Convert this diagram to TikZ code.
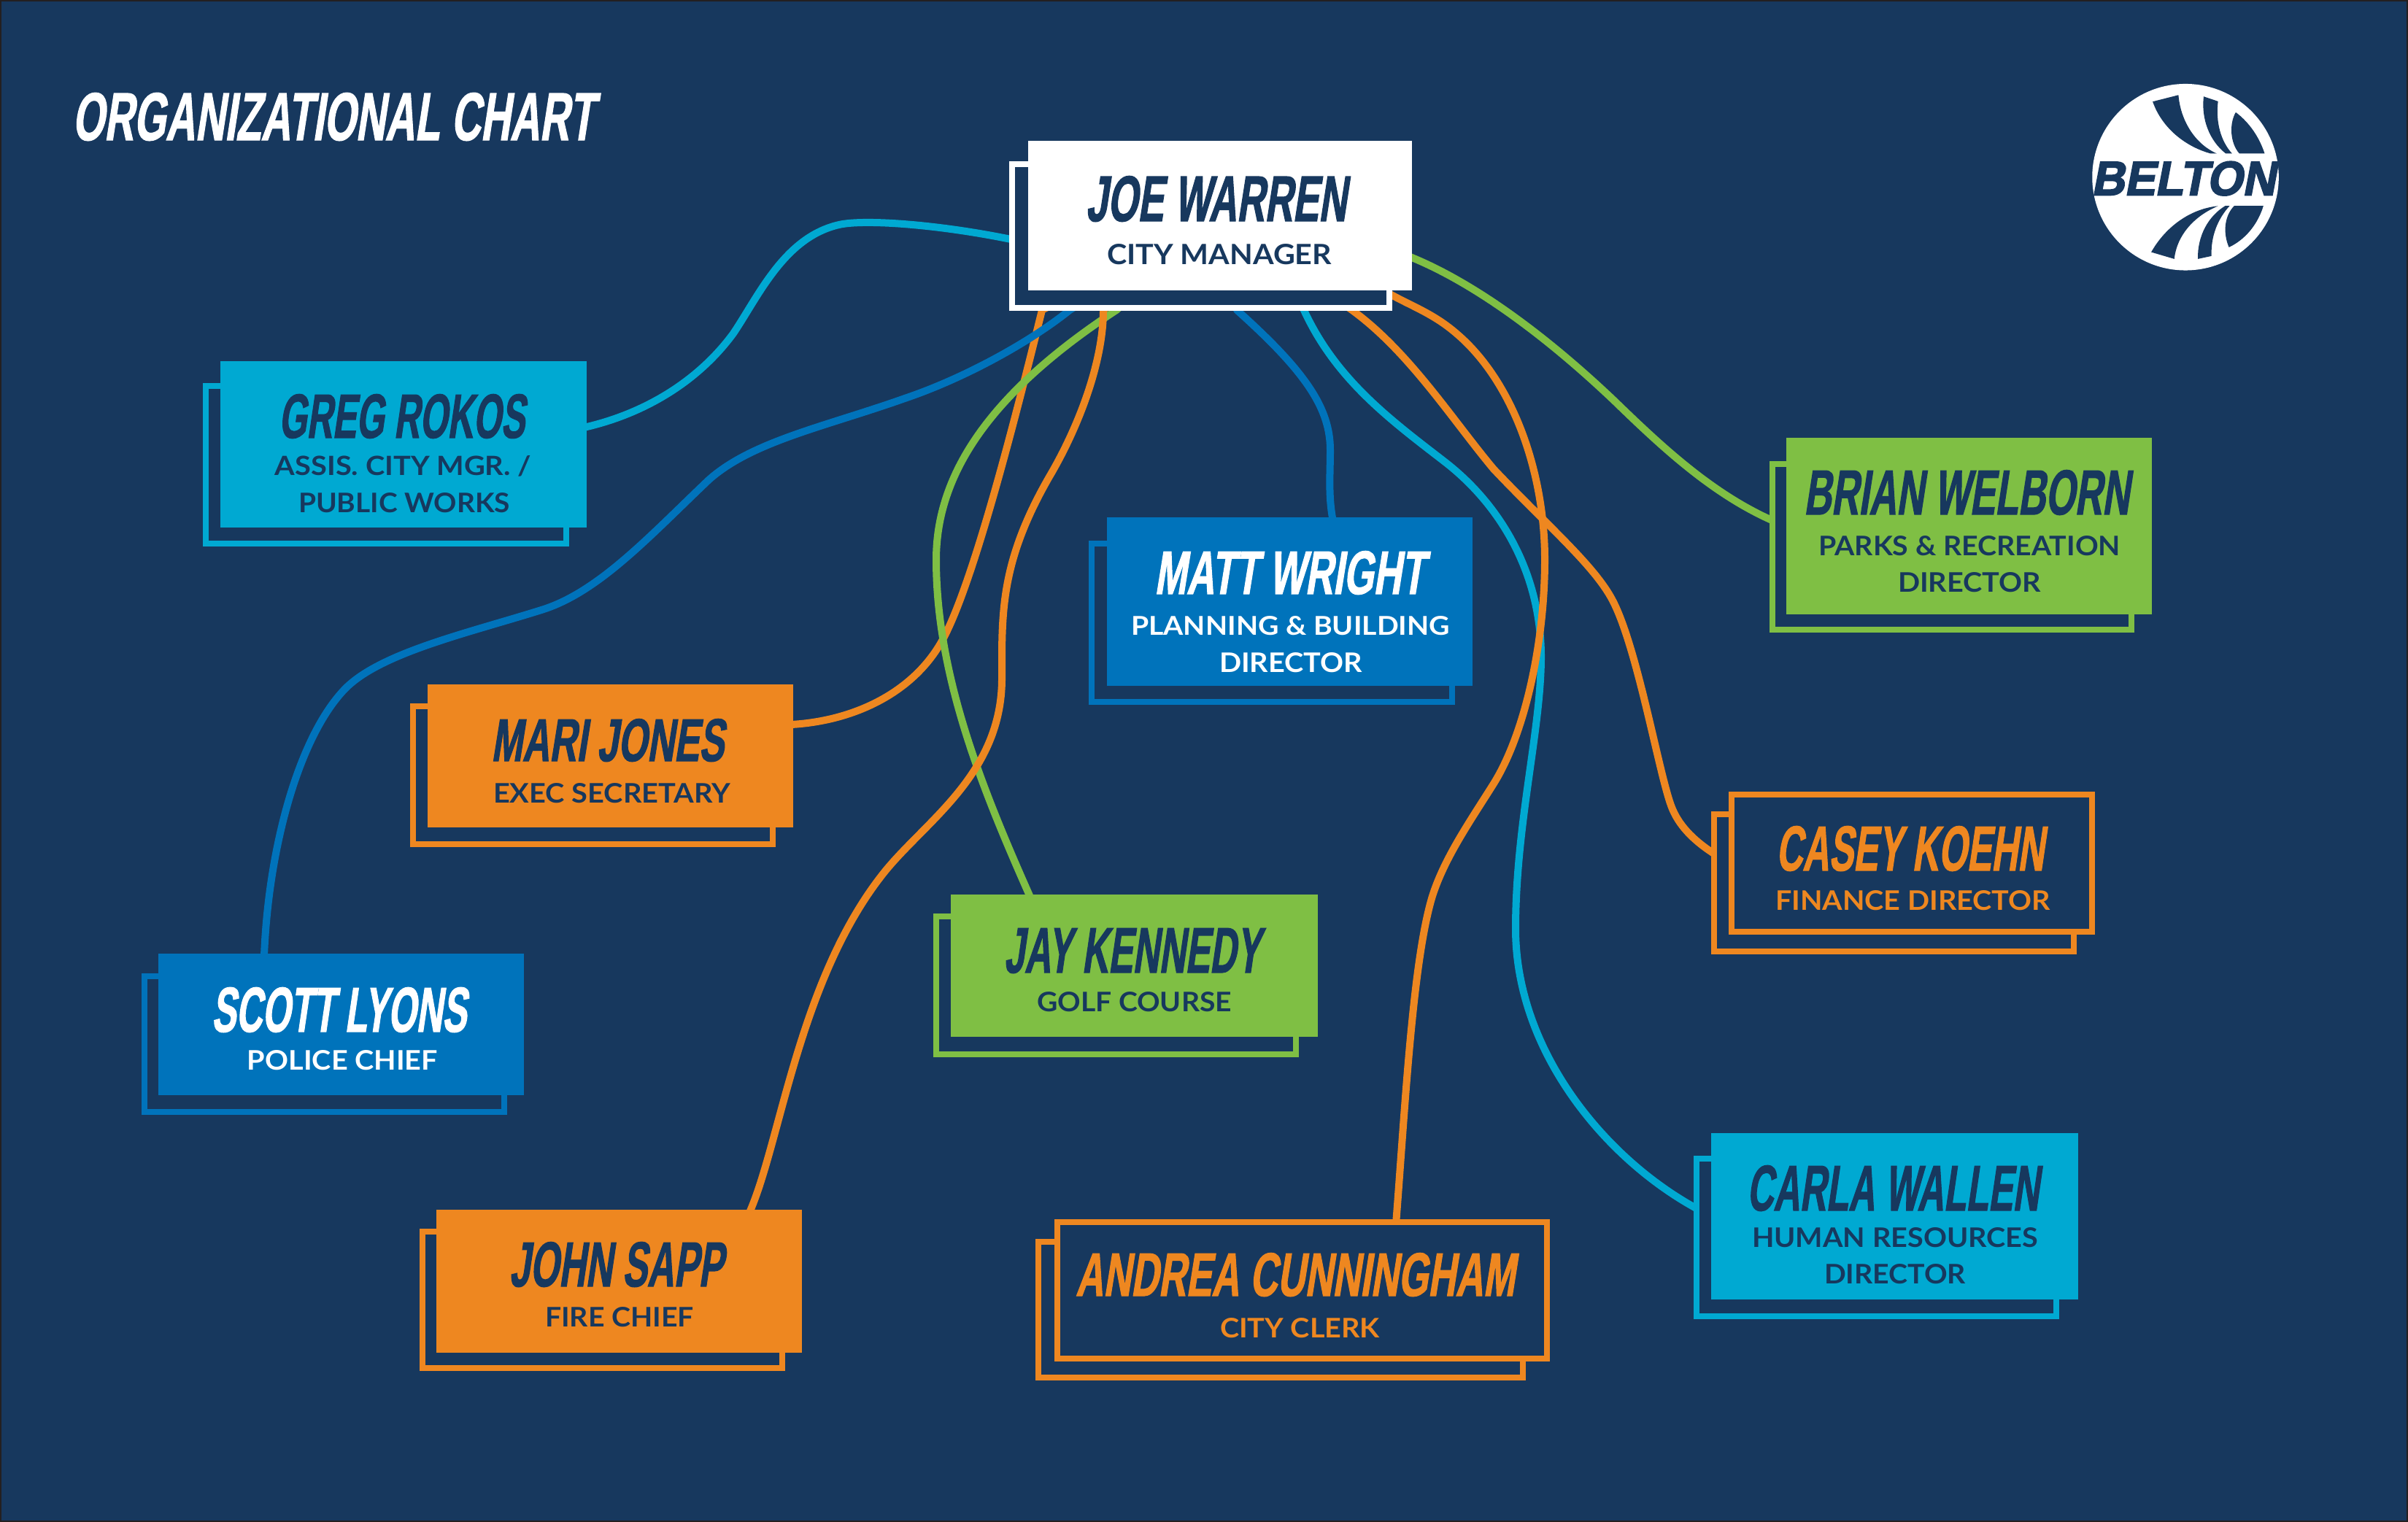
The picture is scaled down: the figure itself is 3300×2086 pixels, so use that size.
\documentclass[tikz,border=0pt]{standalone}
\usepackage{fontspec}
\usepackage{graphicx}
\newfontfamily\namefont[BoldFeatures={FakeSlant=0.16,FakeStretch=0.62,FakeBold=1.2}]{Liberation Sans}
\newfontfamily\subfont{Lato}
\newfontfamily\logofont[BoldFeatures={FakeSlant=0.2,FakeBold=3}]{Liberation Sans}
\definecolor{navy}{RGB}{23,56,94}
\definecolor{edgeline}{RGB}{35,31,32}
\definecolor{cyanb}{RGB}{0,169,210}
\definecolor{blueb}{RGB}{0,115,187}
\definecolor{greenb}{RGB}{127,191,68}
\definecolor{orangeb}{RGB}{238,135,32}
\newlength\pxu
\setlength\pxu{0.01cm}
\pgfdeclarelayer{base}
\pgfdeclarelayer{links}
\pgfsetlayers{base,links,main}
\tikzset{
  x=0.01cm,y=-0.01cm,
  frontbox/.style={draw=none,fill=#1,inner sep=0pt},
  outlinebox/.style={draw=#1,fill=navy,line width=8\pxu,inner sep=0pt},
  backbox/.style={draw=#1,fill=navy,line width=8\pxu,inner sep=0pt},
  txt/.style={inner sep=0pt,outer sep=0pt,anchor=south,text=#1},
  link/.style={draw=#1,line width=10\pxu,line join=round},
}
\newcommand\orgbox[6]{%
  \pgfmathsetmacro\bcx{(#2+#4)/2}\pgfmathsetmacro\bcy{(#3+#5)/2}%
  \pgfmathsetmacro\bw{#4-#2}\pgfmathsetmacro\bh{#5-#3}%
  \node[#6,minimum width=\bw\pxu,minimum height=\bh\pxu] (#1) at (\bcx,\bcy) {};}
\newcommand\orgboxl[6]{%
  \pgfmathsetmacro\bcx{(#2+#4)/2}\pgfmathsetmacro\bcy{(#3+#5)/2}%
  \pgfmathsetmacro\bw{#4-#2-8}\pgfmathsetmacro\bh{#5-#3-8}%
  \node[#6,minimum width=\bw\pxu,minimum height=\bh\pxu] (#1) at (\bcx,\bcy) {};}
\newcommand\nm[7]{%
  \pgfmathsetmacro\tcx{(#2+#4)/2-5}\pgfmathsetmacro\tw{#4-#2-4}\pgfmathsetmacro\th{#5-#3}%
  \node[txt=#6] (#1) at (\tcx,#5) {\resizebox{\tw\pxu}{\th\pxu}{\namefont\bfseries #7}};}
\newcommand\sub[7]{%
  \pgfmathsetmacro\tcx{(#2+#4)/2}\pgfmathsetmacro\tw{#4-#2}\pgfmathsetmacro\th{#5-#3}\pgfmathsetmacro\tby{#5+2}%
  \node[txt=#6] (#1) at (\tcx,\tby) {\resizebox{\tw\pxu}{\th\pxu}{\subfont\bfseries #7}};}
\begin{document}
\begin{tikzpicture}
\useasboundingbox (0,0) rectangle (3300,2086);
\begin{pgfonlayer}{base}
\fill[navy] (0,0) rectangle (3300,2086);
\draw[edgeline,line width=4\pxu] (0,0) rectangle (3300,2086);
\end{pgfonlayer}

\nm{title}{102}{128}{821}{193}{white}{ORGANIZATIONAL CHART}

% logo
\begin{scope}[shift={(2800,90)},x=0.00333333cm,y=-0.00333333cm]
\fill[white] (586,459) circle [radius=384];
\fill[navy] (451,148) -- (557,121) .. controls (565,220) and (620,320) .. (715,362) -- (690,362) .. controls (590,335) and (490,260) .. (451,148) -- cycle;
\fill[navy] (661,127) -- (720,147) .. controls (710,230) and (730,310) .. (778,362) -- (752,362) .. controls (685,310) and (650,220) .. (661,127) -- cycle;
\fill[navy] (793,192) .. controls (850,235) and (890,295) .. (912,362) -- (808,362) .. controls (770,320) and (765,240) .. (793,192) -- cycle;
\fill[navy] (445,768) -- (540,796) .. controls (550,700) and (620,620) .. (720,578) .. controls (600,590) and (500,670) .. (445,768) -- cycle;
\fill[navy] (637,796) -- (693,784) .. controls (690,700) and (720,630) .. (768,577) -- (750,577) .. controls (680,620) and (635,700) .. (637,796) -- cycle;
\fill[navy] (765,748) .. controls (835,715) and (885,650) .. (907,577) -- (787,577) .. controls (745,620) and (740,690) .. (765,748) -- cycle;
\end{scope}
\node[txt=navy] (logotext) at (2992,268) {\resizebox{252\pxu}{46\pxu}{\logofont\bfseries BELTON}};

\orgboxl{joeb}{1383}{221}{1908}{426}{backbox=white}
\orgbox{joe}{1409}{193}{1935}{398}{frontbox=white}
\nm{joen}{1491}{242}{1852}{304}{navy}{JOE WARREN}
\sub{joes}{1517}{333}{1825}{361}{navy}{CITY MANAGER}

\orgboxl{gregb}{278}{525}{780}{749}{backbox=cyanb}
\orgbox{greg}{302}{495}{804}{723}{frontbox=cyanb}
\nm{gregn}{385}{541}{726}{601}{navy}{GREG ROKOS}
\sub{gregs}{377}{624}{728}{651}{navy}{ASSIS. CITY MGR. /}
\sub{gregt}{409}{674}{699}{701}{navy}{PUBLIC WORKS}

\orgboxl{mattb}{1492}{741}{1994}{966}{backbox=blueb}
\orgbox{matt}{1517}{709}{2018}{940}{frontbox=blueb}
\nm{mattn}{1585}{756}{1959}{815}{white}{MATT WRIGHT}
\sub{matts}{1550}{843}{1987}{869}{white}{PLANNING \& BUILDING}
\sub{mattt}{1671}{893}{1867}{920}{white}{DIRECTOR}

\orgboxl{brianb}{2425}{632}{2925}{867}{backbox=greenb}
\orgbox{brian}{2448}{600}{2949}{842}{frontbox=greenb}
\nm{briann}{2475}{645}{2925}{706}{navy}{BRIAN WELBORN}
\sub{brians}{2492}{733}{2906}{760}{navy}{PARKS \& RECREATION}
\sub{briant}{2601}{783}{2797}{810}{navy}{DIRECTOR}

\orgboxl{marib}{562}{964}{1063}{1161}{backbox=orangeb}
\orgbox{mari}{586}{938}{1087}{1134}{frontbox=orangeb}
\nm{marin}{676}{986}{999}{1044}{navy}{MARI JONES}
\sub{maris}{676}{1072}{1001}{1099}{navy}{EXEC SECRETARY}

\orgboxl{caseyb}{2345}{1112}{2846}{1308}{backbox=orangeb}
\orgboxl{casey}{2369}{1085}{2871}{1281}{outlinebox=orangeb}
\nm{caseyn}{2437}{1133}{2808}{1194}{orangeb}{CASEY KOEHN}
\sub{caseys}{2433}{1219}{2810}{1246}{orangeb}{FINANCE DIRECTOR}

\orgboxl{scottb}{194}{1334}{695}{1528}{backbox=blueb}
\orgbox{scott}{217}{1307}{718}{1501}{frontbox=blueb}
\nm{scottn}{293}{1354}{646}{1415}{white}{SCOTT LYONS}
\sub{scotts}{339}{1438}{600}{1465}{white}{POLICE CHIEF}

\orgboxl{jayb}{1279}{1252}{1780}{1449}{backbox=greenb}
\orgbox{jay}{1303}{1226}{1806}{1421}{frontbox=greenb}
\nm{jayn}{1379}{1273}{1734}{1334}{navy}{JAY KENNEDY}
\sub{jays}{1421}{1358}{1688}{1385}{navy}{GOLF COURSE}

\orgboxl{johnb}{575}{1684}{1076}{1879}{backbox=orangeb}
\orgbox{john}{598}{1658}{1099}{1854}{frontbox=orangeb}
\nm{johnn}{701}{1703}{998}{1764}{navy}{JOHN SAPP}
\sub{johns}{747}{1790}{951}{1817}{navy}{FIRE CHIEF}

\orgboxl{andreab}{1419}{1698}{2091}{1892}{backbox=orangeb}
\orgboxl{andrea}{1445}{1671}{2124}{1866}{outlinebox=orangeb}
\nm{andrean}{1477}{1718}{2083}{1777}{orangeb}{ANDREA CUNNINGHAM}
\sub{andreas}{1672}{1805}{1891}{1832}{orangeb}{CITY CLERK}

\orgboxl{carlab}{2321}{1584}{2822}{1808}{backbox=cyanb}
\orgbox{carla}{2345}{1553}{2848}{1781}{frontbox=cyanb}
\nm{carlan}{2397}{1598}{2801}{1660}{navy}{CARLA WALLEN}
\sub{carlas}{2401}{1681}{2793}{1708}{navy}{HUMAN RESOURCES}
\sub{carlat}{2500}{1731}{2694}{1758}{navy}{DIRECTOR}

\begin{pgfonlayer}{links}
\draw[link=cyanb] (greg.center) -- (800,586) .. controls (880,568) and (955,525) .. (1005,457) .. controls (1040,405) and (1075,325) .. (1150,308) .. controls (1185,300) and (1290,308) .. (1390,329) -- (joe.center);
\draw[link=greenb] (brian.center) -- (2435,716) .. controls (2350,680) and (2280,615) .. (2213,550) .. controls (2150,490) and (2040,395) .. (1930,351) -- (joe.center);
\draw[link=blueb] (matt.center) -- (1827,715) .. controls (1820,680) and (1823,650) .. (1823,617) .. controls (1823,560) and (1790,510) .. (1695,425) -- (joe.center);
\draw[link=orangeb] (mari.center) -- (1085,993) .. controls (1170,988) and (1250,950) .. (1290,880) .. controls (1330,810) and (1385,600) .. (1428,425) -- (joe.center);
\draw[link=greenb] (jay.center) -- (1413,1232) .. controls (1350,1090) and (1283,930) .. (1283,767) .. controls (1283,640) and (1370,530) .. (1530,425) -- (joe.center);
\draw[link=orangeb] (john.center) -- (1027,1662) .. controls (1070,1565) and (1095,1340) .. (1213,1194) .. controls (1270,1124) and (1373,1060) .. (1373,930) .. controls (1373,840) and (1370,770) .. (1440,650) .. controls (1475,590) and (1512,500) .. (1512,425) -- (joe.center);
\draw[link=blueb] (scott.center) -- (362,1310) .. controls (368,1160) and (410,1010) .. (472,945) .. controls (520,895) and (640,868) .. (742,836) .. controls (820,812) and (890,735) .. (971,658) .. controls (1030,605) and (1130,585) .. (1240,546) .. controls (1320,519) and (1410,470) .. (1466,425) -- (joe.center);
\draw[link=cyanb] (carla.center) -- (2330,1659) .. controls (2200,1590) and (2077,1440) .. (2077,1273) .. controls (2077,1130) and (2112,1000) .. (2112,900) .. controls (2112,790) and (2060,695) .. (1980,633) .. controls (1905,575) and (1830,520) .. (1786,423) -- (joe.center);
\draw[link=orangeb] (casey.center) -- (2352,1172) .. controls (2325,1155) and (2303,1135) .. (2292,1109) .. controls (2275,1070) and (2245,890) .. (2210,823) .. controls (2185,775) and (2120,720) .. (2047,643) .. controls (1990,575) and (1930,480) .. (1850,423) -- (joe.center);
\draw[link=orangeb] (andrea.center) -- (1912,1690) .. controls (1925,1530) and (1935,1320) .. (1963,1228) .. controls (1980,1175) and (2015,1125) .. (2047,1074) .. controls (2090,1005) and (2117,880) .. (2117,767) .. controls (2117,650) and (2075,525) .. (1997,458) .. controls (1965,430) and (1935,420) .. (1903,402) -- (joe.center);
\end{pgfonlayer}
\end{tikzpicture}
\end{document}
